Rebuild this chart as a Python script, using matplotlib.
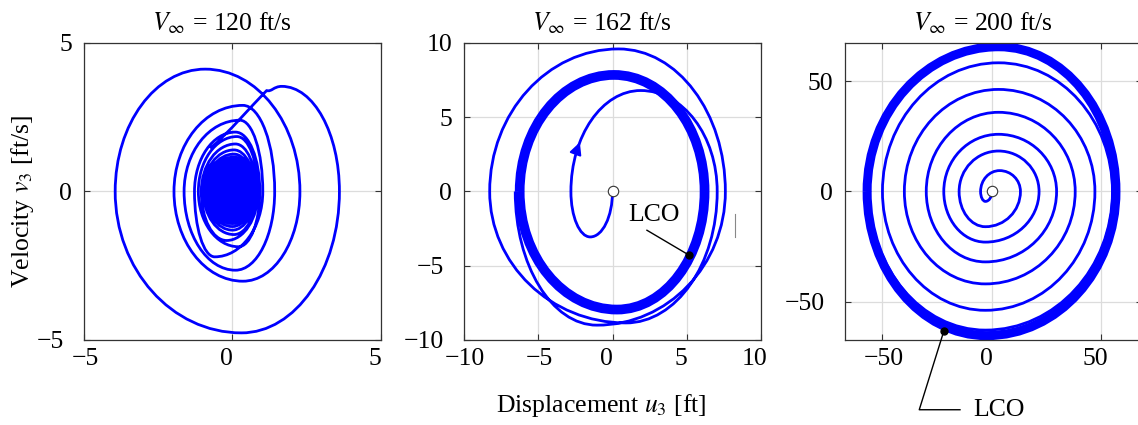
import numpy as np
import matplotlib
matplotlib.use("Agg")
import matplotlib.pyplot as plt
from matplotlib.path import Path
from matplotlib.patches import PathPatch
from matplotlib.transforms import ScaledTranslation

plt.rcParams['font.family'] = ['Liberation Serif', 'DejaVu Serif']
plt.rcParams['mathtext.fontset'] = 'stix'

# turning points of each trajectory.
# v == 0 -> extreme of displacement (curve passes vertically),
# otherwise an extreme of velocity (curve passes horizontally)
speeds = [120, 162, 200]

# V = 120 ft/s (first two points are the straight lead-in)
u_120 = [-0.75, 1.15,
         1.66, 3.60, 0.30, -3.95,
         -0.92, 2.27, 0.35, -1.97,
         0.35, 1.42, 0.10, -1.63,
         0.25, 1.02, -0.60, -1.28,
         0.10, 0.92, 0.20, -1.15,
         0.15, 0.86, -0.20, -1.05,
         0.10, 0.80, 0.05, -0.98,
         0.05, 0.76, 0.00, -0.92,
         0.05, 0.72, 0.00, -0.89,
         0.05, 0.69, 0.00, -0.86,
         0.05, 0.66, 0.00, -0.82,
         0.05, 0.62, 0.00, -0.78,
         0.05, 0.58, 0.00, -0.74,
         0.05, 0.54, 0.00, -0.69,
         0.05, 0.50, 0.00, -0.64,
         0.05, 0.46, 0.00, -0.59,
         0.05, 0.42, 0.00, -0.54,
         0.05, 0.38, 0.00, -0.49,
         0.05, 0.34, 0.00, -0.44,
         0.05, 0.30, 0.00, -0.39,
         0.05, 0.26, 0.00, -0.34,
         0.05, 0.22, 0.00, -0.29,
         0.05, 0.18, 0.00, -0.24,
         0.05, 0.14, 0.00, -0.19,
         0.05, 0.10, 0.00, -0.14,
         0.04, 0.07, 0.00, -0.09,
         0.03, 0.05, 0.00, -0.05]
v_120 = [1.45, 3.40,
         3.54, 0, -4.76, 0,
         4.12, 0, -3.02, 0,
         2.90, 0, -2.65, 0,
         2.40, 0, -2.20, 0,
         2.00, 0, -1.86, 0,
         1.85, 0, -1.65, 0,
         1.60, 0, -1.45, 0,
         1.40, 0, -1.30, 0,
         1.26, 0, -1.18, 0,
         1.16, 0, -1.08, 0,
         1.08, 0, -1.02, 0,
         1.01, 0, -0.96, 0,
         0.94, 0, -0.90, 0,
         0.87, 0, -0.84, 0,
         0.80, 0, -0.77, 0,
         0.73, 0, -0.70, 0,
         0.66, 0, -0.63, 0,
         0.59, 0, -0.56, 0,
         0.52, 0, -0.49, 0,
         0.45, 0, -0.42, 0,
         0.38, 0, -0.35, 0,
         0.31, 0, -0.29, 0,
         0.25, 0, -0.23, 0,
         0.19, 0, -0.17, 0,
         0.13, 0, -0.11, 0,
         0.08, 0, -0.07, 0,
         0.04, 0, -0.03, 0]

# V = 162 ft/s, starts at the origin
u_162 = [0, -1.50, -2.80, 1.90, 7.05, 0.90, -8.27, 0.40, 7.60, -1.05, -6.55]
v_162 = [0, -3.06, 0, 6.80, 0, -8.85, 0, 9.60, 0, -9.00, 0]
lco_u_162 = [-6.25, 0.10, 6.20, 0.30, -6.25]
lco_v_162 = [0, 7.85, 0, -7.95, 0]

# V = 200 ft/s, spiral out from the origin
u_200 = [0, -3.0, -5.2, 3.5, 13.0, -3.0, -15.0, 3.0, 21.5, -3.0, -22.0, 3.0,
         29.5, -3.0, -30.0, 3.0, 38.0, -3.0, -40.0, 3.0, 47.0, -3.0, -50.0,
         3.0, 55.0, -3.0, -56.0]
v_200 = [0, -4.5, 0, 9.5, 0, -16.0, 0, 18.4, 0, -23.0, 0, 26.0,
         0, -32.0, 0, 36.0, 0, -42.0, 0, 46.4, 0, -54.0, 0,
         58.5, 0, -63.0, 0]
lco_u_200 = [-57.0, 3.0, 56.6, -2.5, -57.0]
lco_v_200 = [0, 65.8, 0, -65.5, 0]

K = 0.5523  # quarter ellipse handle


def phase_path(u, v, n_free=0):
    pts = np.column_stack([u, v]).astype(float)
    verts = [pts[0]]
    codes = [Path.MOVETO]
    for i in range(len(pts) - 1):
        p, q = pts[i], pts[i + 1]
        d = q - p
        if i < n_free:
            nxt = pts[i + 2] if i + 2 < len(pts) else q
            prv = pts[i - 1] if i > 0 else p
            t = nxt - prv
            t = t / np.linalg.norm(t)
            c1 = p + t * np.linalg.norm(d) / 3
        elif v[i] == 0:
            c1 = p + [0, K * d[1]]
        else:
            c1 = p + [K * d[0], 0]
        if i + 1 < n_free:
            c2 = q - d / 3
        elif v[i + 1] == 0:
            c2 = q + [0, -K * d[1]]
        else:
            c2 = q + [-K * d[0], 0]
        verts += [c1, c2, q]
        codes += [Path.CURVE4] * 3
    return Path(verts, codes), verts


def bez(verts, seg, t):
    p0, c1, c2, p1 = [np.asarray(x) for x in verts[3 * seg:3 * seg + 4]]
    s = 1 - t
    return s**3 * p0 + 3 * s**2 * t * c1 + 3 * s * t**2 * c2 + t**3 * p1


def fmt(x):
    return ('\u2212%d' % -x) if x < 0 else '%d' % x


BLUE = '#0000ff'
LW = 2.0
fig = plt.figure(figsize=(11.38, 4.25), dpi=100)
W, H = 1138, 425
lefts = [84, 464, 845]
axes = [fig.add_axes([l / W, 85 / H, 297 / W, 297 / H]) for l in lefts]

limits = [((-5, 5), (-5, 5)), ((-10, 10), (-10, 10)), ((-67.1, 68.5), (-67.5, 67.5))]
ticks = [[-5, 0, 5], [-10, -5, 0, 5, 10], [-50, 0, 50]]

for ax, spd, (xl, yl), tk in zip(axes, speeds, limits, ticks):
    ax.set_xlim(xl)
    ax.set_ylim(yl)
    ax.set_xticks(tk, [fmt(t) for t in tk])
    ax.set_yticks(tk, [fmt(t) for t in tk])
    ax.set_axisbelow(True)
    ax.grid(True, color='#dcdcdc', lw=0.9)
    ax.tick_params(direction='in', length=4, width=0.8, top=True, right=True,
                   labelsize=18.5, color='#333333')
    ax.tick_params(axis='y', pad=8.5)
    ax.tick_params(axis='x', pad=6)
    for s in ax.spines.values():
        s.set_color('#333333')
        s.set_linewidth(0.9)
    ax.set_title(r'$V_\infty$ = %d ft/s' % spd, fontsize=18.5, pad=9, x=0.466)
    # label nudges seen in the original export
    for lab, t in zip(ax.get_xticklabels(), tk):
        dx = 1 if t < 0 else -6
        lab.set_transform(lab.get_transform() + ScaledTranslation(dx / 100, 0, fig.dpi_scale_trans))
    for lab, t in zip(ax.get_yticklabels(), tk):
        if t < 0:
            lab.set_transform(lab.get_transform() + ScaledTranslation(-8 / 100, 0, fig.dpi_scale_trans))

# panel 1
ax = axes[0]
path, _ = phase_path(u_120, v_120, n_free=2)
ax.add_patch(PathPatch(path, fc='none', ec=BLUE, lw=LW, joinstyle='round'))
ax.set_ylabel(r'Velocity $v_3$ [ft/s]', fontsize=18.5)
ax.yaxis.set_label_coords(-0.16, 0.466)

# panel 2
ax = axes[1]
path, verts = phase_path(u_162, v_162)
ax.add_patch(PathPatch(path, fc='none', ec=BLUE, lw=LW, joinstyle='round'))
lco, _ = phase_path(lco_u_162, lco_v_162)
ax.add_patch(PathPatch(lco, fc='none', ec=BLUE, lw=7.0))
a0, a1 = bez(verts, 2, 0.28), bez(verts, 2, 0.34)
ax.annotate('', xy=a1, xytext=a0,
            arrowprops=dict(arrowstyle='-|>', color=BLUE, lw=1.5, mutation_scale=18))
ax.plot(0, 0, 'o', ms=7.5, mfc='white', mec='#333333', mew=0.8, zorder=5)
ax.plot([2.32, 5.18], [-2.61, -4.30], color='black', lw=1.0, zorder=5)
ax.plot(5.18, -4.30, 'o', ms=5, color='black', zorder=6)
ax.text(2.77, -1.6, 'LCO', fontsize=18.5, ha='center', va='center')
ax.plot([8.22, 8.22], [-1.5, -3.05], color='#888888', lw=0.8)
ax.set_xlabel(r'Displacement $u_3$ [ft]', fontsize=18.5)
ax.xaxis.set_label_coords(0.4636, -0.175)

# panel 3
ax = axes[2]
path, _ = phase_path(u_200, v_200)
ax.add_patch(PathPatch(path, fc='none', ec=BLUE, lw=LW, joinstyle='round'))
lco, _ = phase_path(lco_u_200, lco_v_200)
ax.add_patch(PathPatch(lco, fc='none', ec=BLUE, lw=6.5))
ax.plot(0, 0, 'o', ms=7.5, mfc='white', mec='#333333', mew=0.8, zorder=5)
ax.plot([-21.9, -33.2, -14.6], [-63.2, -99.2, -99.2], color='black', lw=1.0,
        clip_on=False, zorder=5)
ax.plot(-21.9, -63.2, 'o', ms=5, color='black', zorder=6, clip_on=False)
ax.text(-8.5, -99.2, 'LCO', fontsize=18.5, ha='left', va='center')

fig.savefig('out.png', dpi=100)
